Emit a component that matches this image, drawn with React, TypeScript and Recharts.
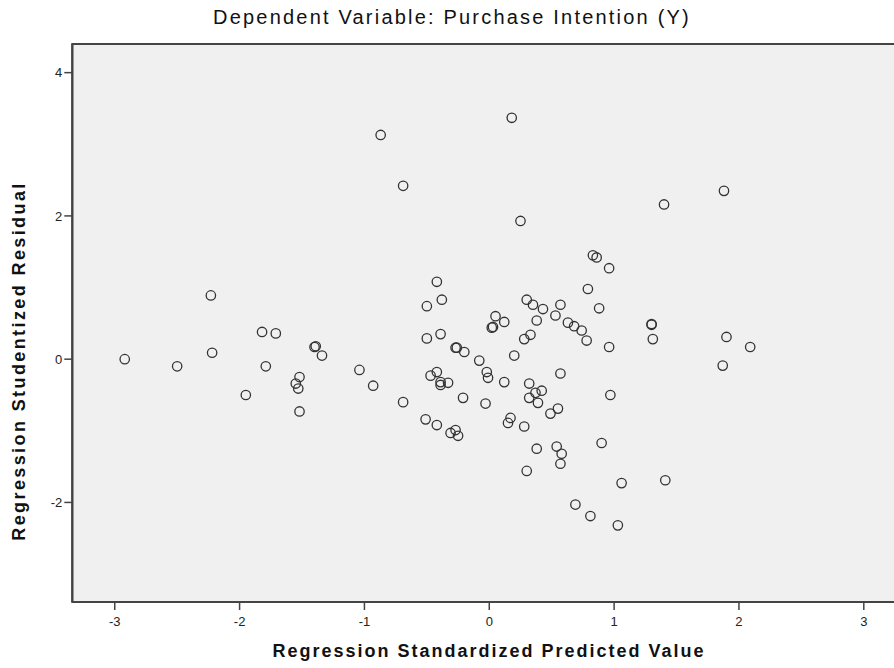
import React from 'react';
import { ScatterChart, Scatter, XAxis, YAxis, ReferenceArea } from 'recharts';

// Regression Standardized Predicted Value (x) and Studentized Residual (y)
const predicted = [
  -2.92, -2.5, -2.23, -2.22, -1.95, -1.82, -1.71, -1.79, -1.39, -1.4,
  -1.34, -1.52, -1.55, -1.53, -1.52, -1.04, -0.93, -0.87, 0.18, -0.69,
  0.25, 0.83, 0.86, 0.96, -0.42, 0.79, -0.5, -0.38, 0.3, 0.35,
  0.43, 0.57, 0.88, 0.05, 0.12, 0.02, 0.03, 0.38, 0.53, 0.63,
  0.68, 0.74, 0.78, 0.96, -0.5, -0.39, 0.28, 0.33, -0.26, -0.27,
  -0.2, 0.2, -0.08, -0.69, -0.47, -0.42, -0.39, -0.39, -0.33, -0.02,
  -0.01, 0.12, 0.32, 0.37, 0.42, 0.32, 0.39, 0.57, 0.97, -0.21,
  -0.03, 0.55, 0.49, -0.51, -0.42, -0.31, -0.27, -0.25, 0.17, 0.15,
  0.28, 0.38, 0.54, 0.58, 0.57, 0.9, 0.3, 1.88, 1.4, 1.3,
  1.3, 1.31, 1.9, 2.09, 1.87, 1.06, 1.41, 1.03, 0.69, 0.81,
];
const residual = [
  0.0, -0.1, 0.89, 0.09, -0.5, 0.38, 0.36, -0.1, 0.18, 0.17,
  0.05, -0.25, -0.34, -0.41, -0.73, -0.15, -0.37, 3.13, 3.37, 2.42,
  1.93, 1.45, 1.42, 1.27, 1.08, 0.98, 0.74, 0.83, 0.83, 0.76,
  0.7, 0.76, 0.71, 0.6, 0.52, 0.44, 0.45, 0.54, 0.61, 0.51,
  0.46, 0.4, 0.26, 0.17, 0.29, 0.35, 0.28, 0.34, 0.16, 0.16,
  0.1, 0.05, -0.02, -0.6, -0.23, -0.18, -0.32, -0.36, -0.33, -0.18,
  -0.26, -0.32, -0.34, -0.47, -0.44, -0.54, -0.61, -0.2, -0.5, -0.54,
  -0.62, -0.69, -0.76, -0.84, -0.92, -1.03, -0.99, -1.07, -0.82, -0.89,
  -0.94, -1.25, -1.22, -1.32, -1.46, -1.17, -1.56, 2.35, 2.16, 0.49,
  0.48, 0.28, 0.31, 0.17, -0.09, -1.73, -1.69, -2.32, -2.03, -2.19,
];
const xTicks = [-3, -2, -1, 0, 1, 2, 3];
const yTicks = [-2, 0, 2, 4];

const X_DOMAIN: [number, number] = [-3.34, 3.33];
const Y_DOMAIN: [number, number] = [-3.39, 4.4];

const data = predicted.map((x, i) => ({ x, y: residual[i] }));

const FONT = "Arial, 'Liberation Sans', sans-serif";
const tickStyle = { fontSize: 13, fill: '#222', fontFamily: FONT };

const OpenCircle = (props: any) => (
  <circle cx={props.cx} cy={props.cy} r={4.7} fill="none" stroke="#333" strokeWidth={1.3} />
);

export default function App() {
  return (
    <div style={{ position: 'absolute', left: 0, top: 0, width: 894, height: 668, overflow: 'hidden', background: '#fff' }}>
      <div
        style={{
          position: 'absolute', left: 0, width: 904, top: 6, textAlign: 'center',
          fontFamily: FONT, fontSize: 20, letterSpacing: 2.2, color: '#111', whiteSpace: 'nowrap',
        }}
      >
        Dependent Variable: Purchase Intention (Y)
      </div>
      <ScatterChart width={920} height={668} margin={{ top: 44, right: 15, bottom: 26, left: 0 }}>
        <ReferenceArea
          x1={X_DOMAIN[0]} x2={X_DOMAIN[1]} y1={Y_DOMAIN[0]} y2={Y_DOMAIN[1]}
          fill="#f0f0f0" fillOpacity={1} stroke="#444" strokeWidth={2}
        />
        <XAxis
          type="number" dataKey="x" domain={X_DOMAIN} ticks={xTicks} allowDataOverflow
          height={40} tickSize={8} tickMargin={7} tick={tickStyle}
          axisLine={{ stroke: '#444', strokeWidth: 2 }} tickLine={{ stroke: '#444', strokeWidth: 1.5 }}
        />
        <YAxis
          type="number" dataKey="y" domain={Y_DOMAIN} ticks={yTicks} allowDataOverflow
          width={72.3} tickSize={8} tickMargin={2} tick={tickStyle}
          axisLine={{ stroke: '#444', strokeWidth: 2 }} tickLine={{ stroke: '#444', strokeWidth: 1.5 }}
        />
        <Scatter data={data} shape={OpenCircle} isAnimationActive={false} />
      </ScatterChart>
      <div
        style={{
          position: 'absolute', left: 189, width: 600, top: 641, textAlign: 'center',
          fontFamily: FONT, fontSize: 18, fontWeight: 'bold', letterSpacing: 2, color: '#111', whiteSpace: 'nowrap',
        }}
      >
        Regression Standardized Predicted Value
      </div>
      <div style={{ position: 'absolute', left: 19, top: 361, width: 0, height: 0 }}>
        <div
          style={{
            position: 'absolute', left: -300, top: -11, width: 600, textAlign: 'center',
            transform: 'rotate(-90deg)', fontFamily: FONT, fontSize: 18, fontWeight: 'bold', letterSpacing: 2.4,
            color: '#111', whiteSpace: 'nowrap', lineHeight: '22px',
          }}
        >
          Regression Studentized Residual
        </div>
      </div>
    </div>
  );
}
